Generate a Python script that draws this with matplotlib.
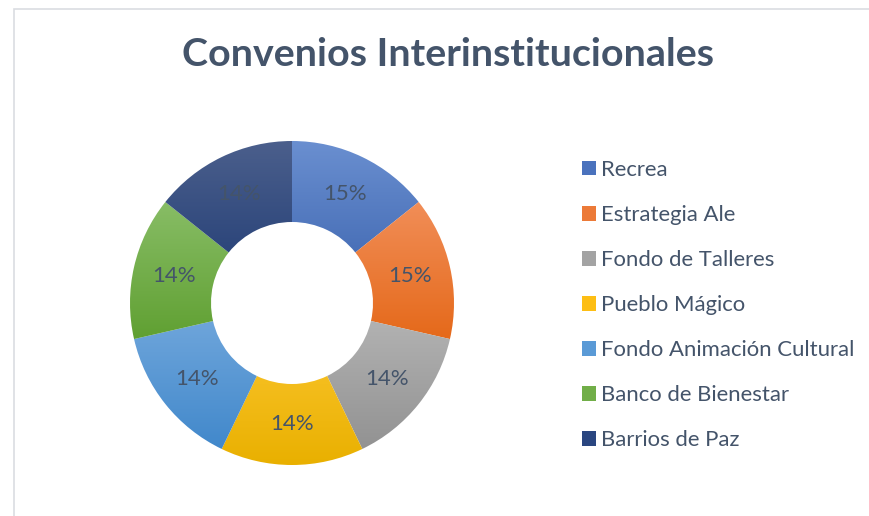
import numpy as np
import matplotlib
matplotlib.use("Agg")
import matplotlib.pyplot as plt
from matplotlib.colors import LinearSegmentedColormap
from matplotlib.patches import Patch, Rectangle

# data: seven equal shares, Excel rounded the labels
categories = ["Recrea", "Estrategia Ale", "Fondo de Talleres", "Pueblo Mágico",
              "Fondo Animación Cultural", "Banco de Bienestar", "Barrios de Paz"]
values = [1, 1, 1, 1, 1, 1, 1]
pct_labels = ["15%", "15%", "14%", "14%", "14%", "14%", "14%"]

# gradient colours (top, bottom) per slice, Excel-like
top_colors = ["#6A8FD0", "#F18E58", "#B6B6B6", "#FFCA38", "#74A9DD", "#88BD66", "#4B5F8C"]
bottom_colors = ["#3A62AD", "#E5691A", "#929292", "#E9B000", "#4188CB", "#60A032", "#1E3A73"]
legend_colors = ["#4A72BD", "#EC7A38", "#A3A3A3", "#FDBE14", "#5A9AD6", "#71AE48", "#2A4680"]

text_color = "#44546A"
plt.rcParams["font.family"] = ["Lato", "DejaVu Sans"]

W, H = 870, 516
fig = plt.figure(figsize=(W / 100, H / 100), dpi=100)

# chart border (light grey frame, top and left visible)
fig.add_artist(Rectangle((14 / W, -0.02), 1.0, (H - 9) / H + 0.02, transform=fig.transFigure,
                         facecolor="none", edgecolor="#DADDE2", linewidth=1.2))

fig.text(448 / W, 1 - 54 / H, "Convenios Interinstitucionales", ha="center", va="center",
         fontsize=28.4, fontweight="bold", color=text_color)

# donut axes: centre (292, 303) px, outer radius 162 px
cx, cy, r = 292, 303, 162
ax = fig.add_axes([(cx - r) / W, (H - cy - r) / H, 2 * r / W, 2 * r / H])
wedges, _ = ax.pie(values, startangle=90, counterclock=False, radius=1,
                   wedgeprops=dict(width=0.5, edgecolor="none", linewidth=0))
ax.set_aspect("equal")
ax.axis("off")

for w, c0, c1, lab in zip(wedges, top_colors, bottom_colors, pct_labels):
    verts = w.get_path().vertices
    x0, x1 = verts[:, 0].min(), verts[:, 0].max()
    y0, y1 = verts[:, 1].min(), verts[:, 1].max()
    cmap = LinearSegmentedColormap.from_list("g", [c0, c1])
    grad = np.linspace(0, 1, 256).reshape(-1, 1)
    im = ax.imshow(grad, cmap=cmap, extent=(x0, x1, y0, y1), origin="upper",
                   aspect="auto", interpolation="bilinear", zorder=1)
    im.set_clip_path(w)
    w.set_facecolor("none")
    # label at mid radius
    ang = np.deg2rad((w.theta1 + w.theta2) / 2)
    ax.text(0.75 * np.cos(ang), 0.75 * np.sin(ang), lab, ha="center", va="center",
            fontsize=16, color=text_color, zorder=3)
ax.set_xlim(-1, 1)
ax.set_ylim(-1, 1)

handles = [Patch(facecolor=c, edgecolor="none") for c in legend_colors]
fs = 15.9
leg = fig.legend(handles, categories, loc="upper left",
                 bbox_to_anchor=(582 / W, 1 - 160 / H), frameon=False,
                 fontsize=fs, handlelength=0.63, handleheight=0.63,
                 handletextpad=0.22, labelspacing=1.135, borderpad=0, borderaxespad=0)
for t in leg.get_texts():
    t.set_color(text_color)

fig.savefig("out.png", dpi=100)
